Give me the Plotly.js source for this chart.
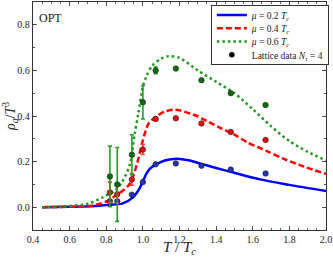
<!DOCTYPE html>
<html><head><meta charset="utf-8">
<script src="https://cdn.plot.ly/plotly-3.0.1.min.js"></script>
<style>html,body{margin:0;padding:0;background:#fff}#g{width:333px;height:257px}</style>
</head><body><div id="g"></div>
<script>
// OPT model curves
var tBlue = [0.45,0.6,0.71,0.8,0.89,0.946,0.985,1.02,1.04,1.077,1.12,1.186,1.25,1.31,1.4,1.49,1.64,1.8,2.0];
var mu02  = [0.0,0.002,0.004,0.01,0.017,0.043,0.087,0.148,0.17,0.19,0.205,0.213,0.206,0.192,0.172,0.153,0.122,0.098,0.071];
var tRed  = [0.45,0.6,0.71,0.8,0.85,0.89,0.93,0.968,0.995,1.03,1.077,1.12,1.165,1.2,1.295,1.35,1.43,1.5,1.57,1.68,1.77,1.88,2.0];
var mu04  = [0.0,0.002,0.005,0.025,0.05,0.072,0.104,0.19,0.278,0.365,0.40,0.42,0.427,0.425,0.40,0.378,0.345,0.318,0.285,0.245,0.212,0.178,0.146];
var tGreen= [0.45,0.5,0.6,0.7,0.78,0.85,0.89,0.93,0.955,0.975,1.0,1.02,1.05,1.1,1.14,1.2,1.3,1.4,1.5,1.6,1.7,1.8,1.9,2.0];
var mu06  = [0.0,0.001,0.005,0.015,0.043,0.075,0.115,0.19,0.32,0.41,0.53,0.575,0.62,0.652,0.662,0.655,0.60,0.55,0.50,0.43,0.355,0.29,0.243,0.205];
// Lattice data N_tau = 4
var latT   = [0.82,0.86,0.94,1.0,1.07,1.18,1.32,1.48,1.67];
var latB   = [0.026,0.026,0.055,0.11,0.188,0.192,0.182,0.165,0.148];
var latBe  = [0.004,0.004,0.004,0.004,0,0,0,0,0];
var latR   = [0.065,0.057,0.122,0.253,0.387,0.39,0.367,0.33,0.295];
var latRe  = [0.045,0.04,0.026,0.022,0.008,0,0,0,0];
var latG   = [0.135,0.10,0.23,0.46,0.60,0.608,0.557,0.50,0.448];
var latGe  = [0.133,0.162,0.088,0.073,0.015,0,0,0,0];
var xTicks = [0.4,0.6,0.8,1.0,1.2,1.4,1.6,1.8,2.0];
var yTicks = [0.0,0.2,0.4,0.6,0.8];

var F = 'Liberation Serif, Times New Roman, serif';
function pts(y, e, fill, ecol){
  return {x: latT, y: y, type:'scatter', mode:'markers', showlegend:false,
    marker:{size:5.5, color:fill, line:{color:'#1a1a1a', width:0.6}},
    error_y:{type:'data', array:e, visible:true, color:ecol, thickness:1.6, width:2}};
}
var data = [
  {x:tBlue, y:mu02, type:'scatter', mode:'lines', name:'<i>μ</i> = 0.2 <i>T<sub>c</sub></i>',
   line:{color:'#0000ff', width:2.5, shape:'spline', smoothing:0.8}},
  {x:tRed, y:mu04, type:'scatter', mode:'lines', name:'<i>μ</i> = 0.4 <i>T<sub>c</sub></i>',
   line:{color:'#ff0000', width:2.5, dash:'6px,3px', shape:'spline', smoothing:0.8}},
  {x:tGreen, y:mu06, type:'scatter', mode:'lines', name:'<i>μ</i> = 0.6 <i>T<sub>c</sub></i>',
   line:{color:'#1e961e', width:2.5, dash:'2.5px,3px', shape:'spline', smoothing:0.8}},
  pts(latB, latBe, '#2236b8', '#3050e0'),
  pts(latR, latRe, '#e01010', '#ff4040'),
  pts(latG, latGe, '#0b6e0b', '#2a9a2a'),
  {x:[null], y:[null], type:'scatter', mode:'markers', name:'Lattice data <i>N<sub>τ</sub></i> = 4',
   marker:{size:5.5, color:'#000'}}
];
var ax = {showline:true, mirror:'allticks', linecolor:'#333', linewidth:1.2, ticks:'inside',
  ticklen:4, tickwidth:0.8, tickcolor:'#333', showgrid:false, zeroline:false,
  tickfont:{family:F, size:10, color:'#222'}};
var layout = {
  width:333, height:257, margin:{l:33, r:7, t:2, b:27},
  paper_bgcolor:'#fff', plot_bgcolor:'#fff',
  xaxis: Object.assign({}, ax, {range:[0.4,2.0], tickvals:xTicks, ticktext:xTicks.map(function(v){return v.toFixed(1);}),
    minor:{dtick:0.05, ticklen:2, tickcolor:'#333', ticks:'inside'},
    title:{text:'<i>T</i> / <i>T<sub>c</sub></i>', font:{family:F, size:15, color:'#222'}, standoff:2}}),
  yaxis: Object.assign({}, ax, {range:[-0.1,0.9], tickvals:yTicks, ticktext:yTicks.map(function(v){return v.toFixed(1);}),
    minor:{dtick:0.1, ticklen:2, tickcolor:'#333', ticks:'inside'},
    title:{text:'<i>ρ<sub>q</sub></i>/<i>T</i><sup>3</sup>', font:{family:F, size:14, color:'#222'}, standoff:6}}),
  legend:{x:0.607, y:0.985, xanchor:'left', yanchor:'top', bgcolor:'#fff', bordercolor:'#333', borderwidth:1,
    font:{family:F, size:9.5, color:'#222'}, tracegroupgap:0},
  annotations:[{text:'OPT', xref:'paper', yref:'paper', x:0.014, y:0.932, xanchor:'left', yanchor:'middle',
    showarrow:false, font:{family:F, size:12, color:'#111'}}]
};
Plotly.newPlot('g', data, layout, {displayModeBar:false, staticPlot:true}).then(function(gd){
  // tighten legend row spacing to match the reference's compact legend
  var items = gd.querySelectorAll('.legend .traces');
  var step = 13.3, y0 = 9.5;
  for (var i = 0; i < items.length; i++) {
    var t = items[i].getAttribute('transform') || '';
    var m = t.match(/translate\(\s*([-\d.]+)/);
    var x = m ? m[1] : 0;
    items[i].setAttribute('transform', 'translate(' + x + ',' + (y0 + step * i) + ')');
  }
  var bg = gd.querySelector('.legend .bg');
  if (bg) bg.setAttribute('height', (y0 + step * (items.length - 1) + 9).toFixed(1));
});
</script></body></html>
